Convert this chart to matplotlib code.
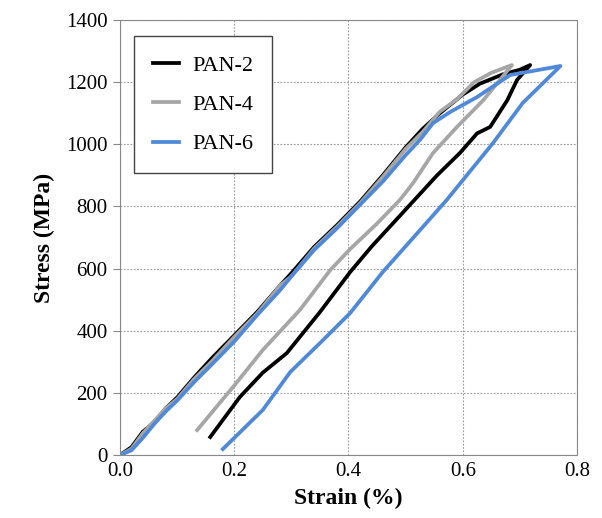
import matplotlib
matplotlib.use("Agg")
import matplotlib.pyplot as plt

# loading + unloading path for each fibre
pan2_strain = [0, 0.02, 0.04, 0.06, 0.08, 0.10, 0.13, 0.16, 0.20, 0.24, 0.28, 0.30, 0.34, 0.38,
               0.42, 0.46, 0.50, 0.53, 0.56, 0.60, 0.63, 0.67, 0.70, 0.718,
               0.695, 0.678, 0.648, 0.625, 0.595, 0.555, 0.52, 0.48, 0.44, 0.403, 0.35, 0.292,
               0.25, 0.21, 0.158]
pan2_stress = [0, 25, 75, 105, 150, 185, 250, 310, 385, 460, 545, 585, 670, 740,
               815, 900, 990, 1050, 1100, 1160, 1195, 1225, 1240, 1255,
               1207, 1142, 1056, 1035, 972, 900, 830, 750, 670, 589, 460, 328,
               265, 187, 58]

pan4_strain = [0, 0.02, 0.04, 0.06, 0.08, 0.10, 0.13, 0.16, 0.20, 0.24, 0.28, 0.30, 0.34, 0.38,
               0.42, 0.46, 0.50, 0.53, 0.56, 0.59, 0.62, 0.65, 0.686,
               0.665, 0.636, 0.59, 0.548, 0.513, 0.49, 0.45, 0.403, 0.368, 0.315, 0.25,
               0.198, 0.135]
pan4_stress = [0, 20, 70, 110, 150, 180, 245, 300, 380, 455, 545, 575, 665, 735,
               810, 895, 985, 1040, 1105, 1145, 1200, 1230, 1255,
               1207, 1142, 1056, 972, 875, 821, 745, 663, 595, 467, 338,
               219, 80]

pan6_strain = [0, 0.02, 0.04, 0.06, 0.08, 0.10, 0.13, 0.16, 0.20, 0.24, 0.28, 0.30, 0.34, 0.38,
               0.42, 0.46, 0.50, 0.525, 0.548, 0.578, 0.625, 0.683, 0.771,
               0.705, 0.653, 0.572, 0.52, 0.46, 0.403, 0.35, 0.298, 0.25, 0.18]
pan6_stress = [0, 15, 55, 100, 140, 175, 235, 290, 365, 450, 530, 575, 660, 730,
               805, 880, 965, 1014, 1068, 1104, 1152, 1223, 1252,
               1133, 1004, 821, 713, 589, 457, 360, 267, 145, 19]

labels = ["PAN-2", "PAN-4", "PAN-6"]
colors = ["#000000", "#a6a6a6", "#5089d8"]

plt.rcParams["font.family"] = ["Liberation Serif", "DejaVu Serif"]

fig = plt.figure(figsize=(6.02, 5.18), dpi=100)
ax = fig.add_axes([0.1993, 0.1216, 0.7592, 0.8398])

series = [(pan2_strain, pan2_stress), (pan4_strain, pan4_stress), (pan6_strain, pan6_stress)]
for (x, y), lab, c in zip(series, labels, colors):
    ax.plot(x, y, color=c, lw=2.7, label=lab, solid_joinstyle="round")

ax.set_xlim(0, 0.8)
ax.set_ylim(0, 1400)
ax.set_xticks([0, 0.2, 0.4, 0.6, 0.8])
ax.set_xticklabels(["0.0", "0.2", "0.4", "0.6", "0.8"])
ax.set_yticks(range(0, 1401, 200))
ax.tick_params(axis="both", labelsize=15, color="#888888")
ax.tick_params(axis="x", length=0, pad=5)
ax.tick_params(axis="y", length=5, pad=4)
ax.grid(True, color="#999999", linestyle=(0, (1.5, 1.5)), lw=0.8)
for s in ax.spines.values():
    s.set_color("#888888")

ax.set_xlabel("Strain (%)", fontsize=17, fontweight="bold", labelpad=5)
ax.set_ylabel("Stress (MPa)", fontsize=17, fontweight="bold", labelpad=8)

leg = ax.legend(loc="upper left", bbox_to_anchor=(0.031, 0.963), borderaxespad=0,
                fontsize=16, fancybox=False, framealpha=1, edgecolor="#444444",
                handlelength=1.15, labelspacing=0.85, borderpad=0.85, handletextpad=0.6)
leg.get_frame().set_linewidth(1.0)

fig.savefig("out.png", dpi=100)
